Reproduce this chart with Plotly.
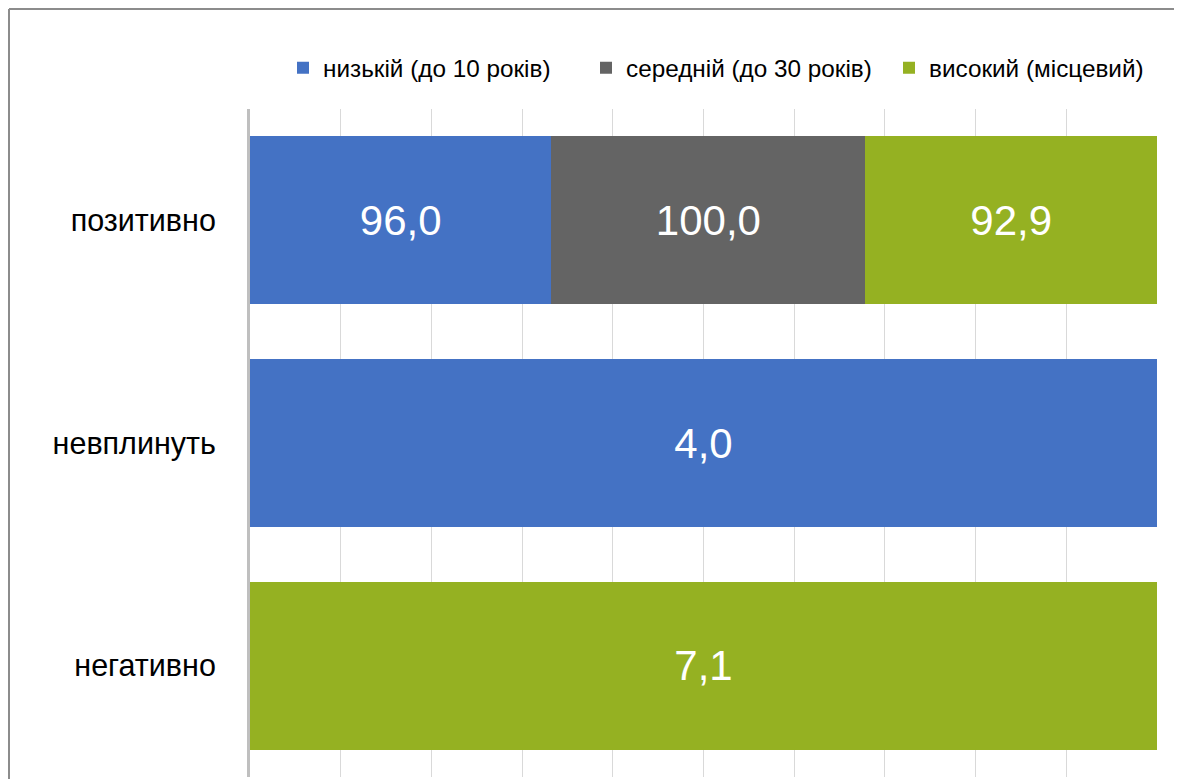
import plotly.graph_objects as go

categories = ["позитивно", "невплинуть", "негативно"]
series_names = ["низькій (до 10 років)", "середній (до 30 років)", "високий (місцевий)"]
low_vals = [96.0, 4.0, None]
mid_vals = [100.0, None, None]
high_vals = [92.9, None, 7.1]
colors = ["#4472C4", "#646464", "#95B122"]

# page body has an 8px margin, so figure coords = screen coords - 8
OFF = 8
W, H = 1182 - OFF, 779 - OFF
L, R, T, B = 250 - OFF, 1157 - OFF, 109 - OFF, 777 - OFF

def fmt(v):
    return "" if v is None else f"{v:.1f}".replace(".", ",")

fig = go.Figure()
for name, vals, col in zip(series_names, [low_vals, mid_vals, high_vals], colors):
    fig.add_trace(go.Bar(
        y=categories, x=vals, name=name, orientation="h",
        marker=dict(color=col, line=dict(width=0)),
        text=[fmt(v) for v in vals], textposition="inside",
        insidetextanchor="middle", textangle=0,
        textfont=dict(color="white", size=42, family="Liberation Sans, Arial"),
        hoverinfo="skip",
    ))

def px_x(px):
    return (px - OFF - L) / (R - L)

def px_y(py):
    return (B - (py - OFF)) / (B - T)

fig.update_layout(
    width=W, height=H,
    margin=dict(l=L, r=W - R, t=T, b=H - B, autoexpand=False),
    barmode="stack", barnorm="percent", bargap=0.246,
    plot_bgcolor="white", paper_bgcolor="white",
    font=dict(family="Liberation Sans, Arial", color="black"),
    showlegend=True,
    legend=dict(
        orientation="h", x=px_x(283), xanchor="left", y=px_y(68), yanchor="middle",
        font=dict(size=24.3, color="black"), traceorder="normal",
        itemwidth=30, bgcolor="rgba(0,0,0,0)",
        entrywidth=258, entrywidthmode="pixels",
    ),
    xaxis=dict(
        range=[0, 100], dtick=10, showgrid=True, gridcolor="#D9D9D9", gridwidth=1,
        showticklabels=False, zeroline=False, showline=False, fixedrange=True,
    ),
    yaxis=dict(
        categoryorder="array", categoryarray=categories[::-1],
        showgrid=False, showline=True, linecolor="#BFBFBF", linewidth=3,
        ticks="outside", ticklen=25, tickcolor="rgba(0,0,0,0)",
        tickfont=dict(size=30.5, color="black"), zeroline=False,
    ),
    shapes=[
        dict(type="line", xref="paper", yref="paper",
             x0=px_x(9), x1=px_x(1200), y0=px_y(9), y1=px_y(9),
             line=dict(color="#8C8C8C", width=2)),
        dict(type="line", xref="paper", yref="paper",
             x0=px_x(9), x1=px_x(9), y0=px_y(9), y1=px_y(800),
             line=dict(color="#8C8C8C", width=2)),
    ],
)

fig.write_html("out.html")
